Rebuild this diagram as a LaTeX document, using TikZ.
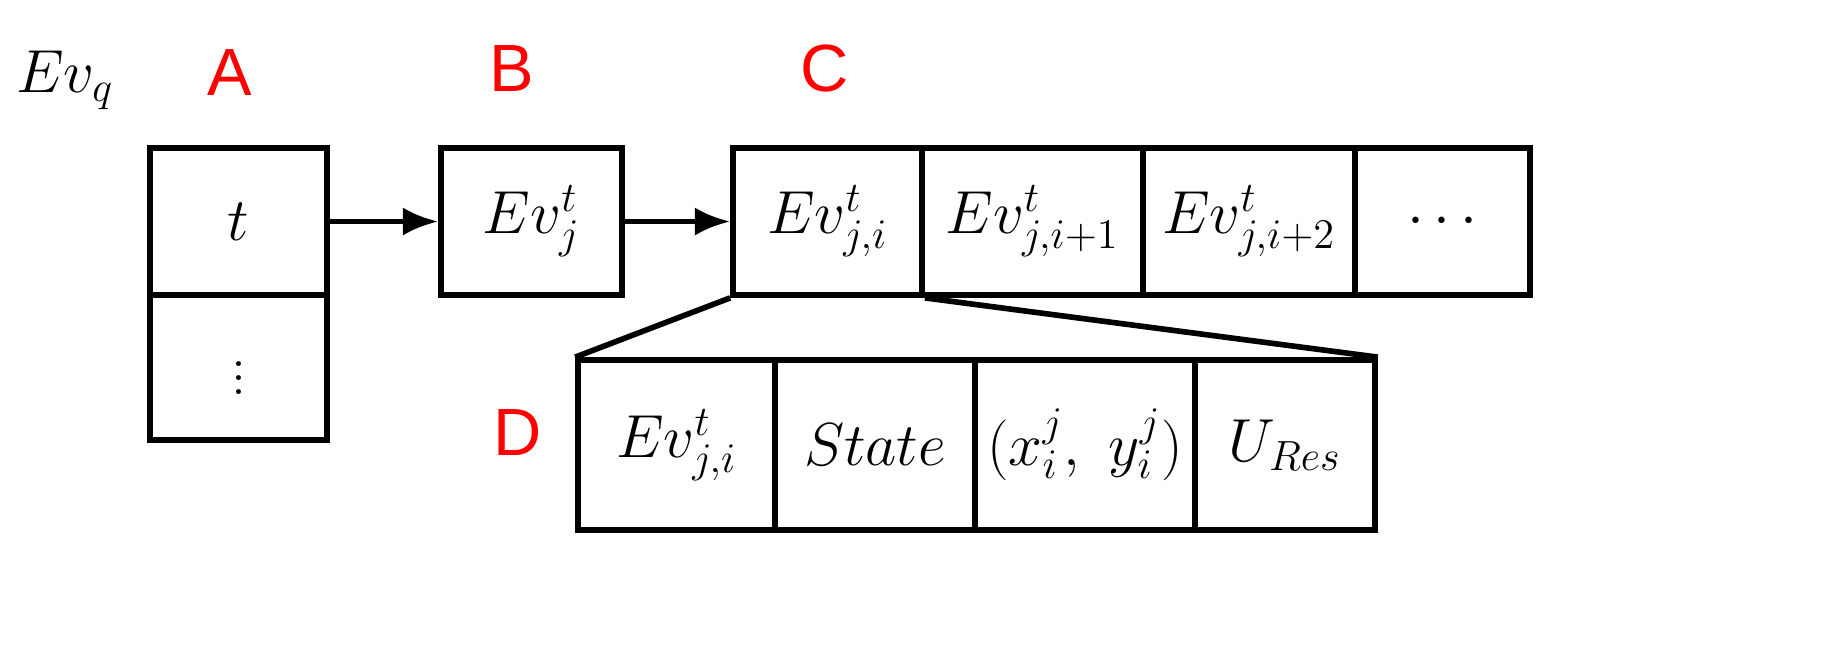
\documentclass[tikz,border=0pt]{standalone}
\usepackage{fontspec}
\newfontfamily\lab{Liberation Sans}
\usetikzlibrary{positioning,arrows.meta}

\begin{document}
\begin{tikzpicture}[x=0.01cm,y=-0.01cm,
    cell/.style={draw, line width=1.6pt, inner sep=0pt, font=\fontsize{17}{20}\selectfont},
    tag/.style={text=red, font=\lab\fontsize{19}{22}\selectfont},
    link/.style={line width=1.6pt, -{Latex[length=10pt,width=8pt]}}]
\useasboundingbox (0,0) rectangle (1836,656);
% Labels
\node[font=\fontsize{17}{20}\selectfont] (evq) at (65,80) {$Ev_q$};
\node[tag] (la) at (230,72) {A};
\node[tag] (lb) at (512,68) {B};
\node[tag] (lc) at (825,68) {C};
\node[tag] (ld) at (518,432) {D};

% A column
\node[cell, minimum width=177\pgflinewidth, minimum width=1.77cm, minimum height=1.47cm] (t) at (238.5,221.5) {$t$};
\node[cell, minimum width=1.77cm, minimum height=1.45cm] (tdots) at (238.5,367.5) {$\vdots$};

% B
\node[cell, minimum width=1.81cm, minimum height=1.47cm] (evj) at (531.5,221.5) {$Ev_j^t$};

% C row
\node[cell, minimum width=1.89cm, minimum height=1.47cm] (c1) at (827.5,221.5) {$Ev_{j,i}^t$};
\node[cell, minimum width=2.21cm, minimum height=1.47cm] (c2) at (1032.5,221.5) {$Ev_{j,i+1}^t$};
\node[cell, minimum width=2.12cm, minimum height=1.47cm] (c3) at (1249,221.5) {$Ev_{j,i+2}^t$};
\node[cell, minimum width=1.75cm, minimum height=1.47cm] (c4) at (1442.5,221.5) {$\cdots$};

% D row
\node[cell, minimum width=1.97cm, minimum height=1.70cm] (d1) at (676.5,445) {$Ev_{j,i}^t$};
\node[cell, minimum width=2.00cm, minimum height=1.70cm] (d2) at (875,445) {$State$};
\node[cell, minimum width=2.20cm, minimum height=1.70cm] (d3) at (1085,445) {$(x_i^j,\ y_i^j)$};
\node[cell, minimum width=1.80cm, minimum height=1.70cm] (d4) at (1285,445) {$U_{Res}$};

% Connectors
\draw[link] (t.east) -- (evj.west);
\draw[link] (evj.east) -- (c1.west);
\draw[line width=1.6pt] (c1.south west) -- (d1.north west);
\draw[line width=1.6pt] (c1.south east) -- (d4.north east);
\end{tikzpicture}
\end{document}
